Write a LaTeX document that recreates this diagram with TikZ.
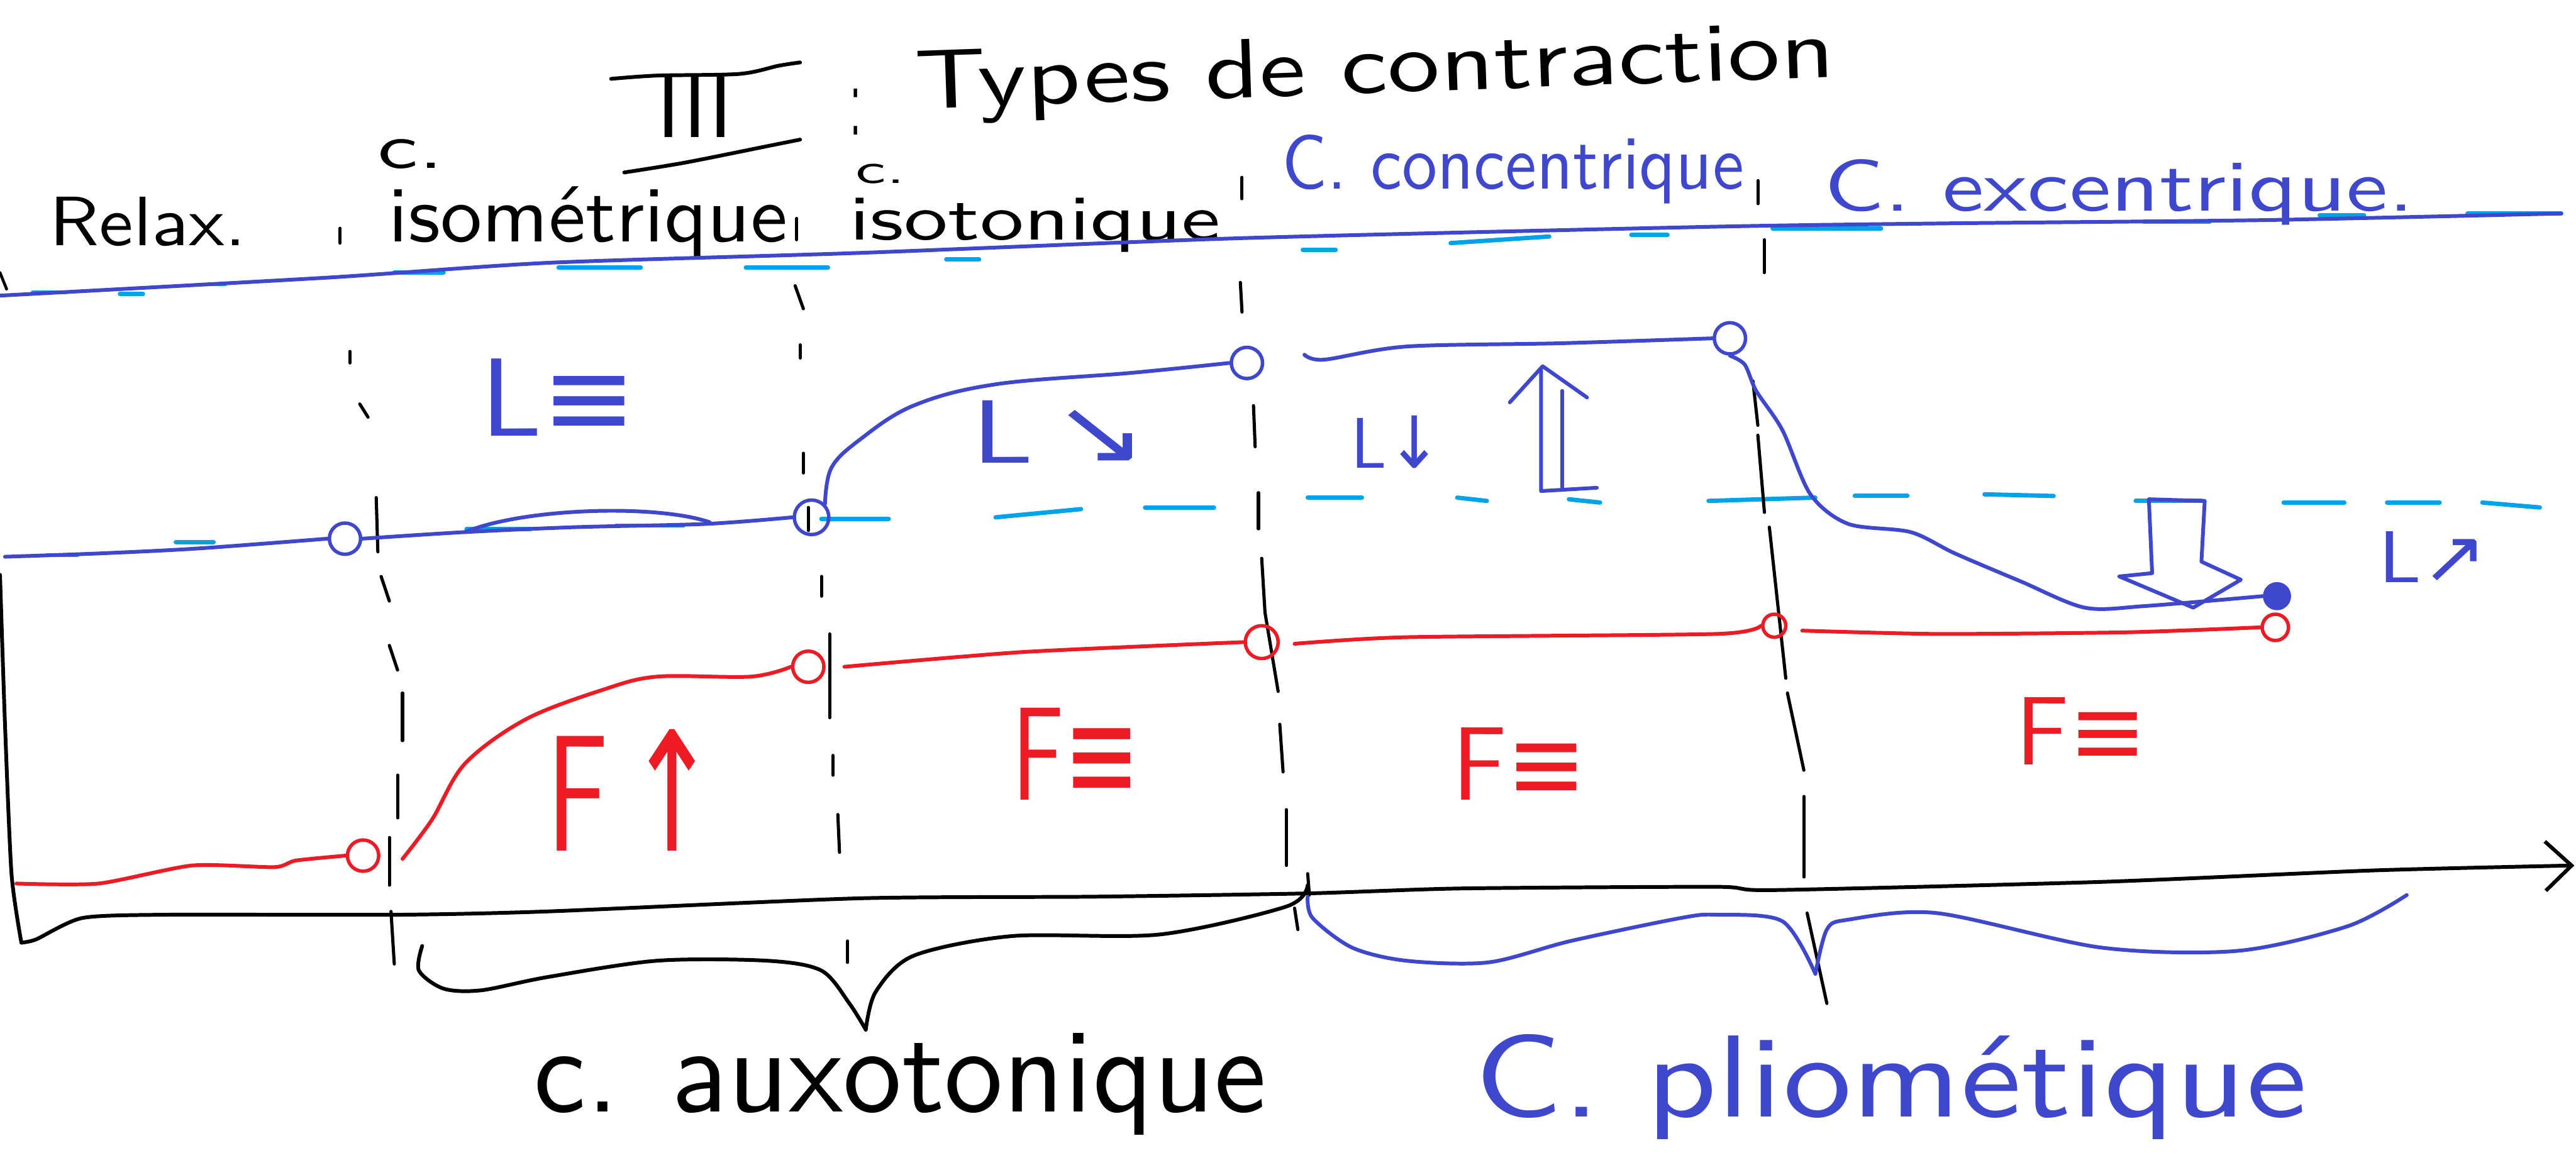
\documentclass[tikz,border=0pt]{standalone}
\usepackage{fontspec}
\newfontfamily\symf{DejaVu Sans}
\usetikzlibrary{arrows.meta}
\definecolor{pblue}{RGB}{63,72,204}
\definecolor{pred}{RGB}{237,28,36}
\definecolor{pcyan}{RGB}{0,162,232}
\newlength\uu
\setlength\uu{0.01cm}
\newcommand{\fitbox}[3]{\resizebox*{#1\uu}{#2\uu}{#3}}
\tikzset{
 bline/.style={draw=pblue, line width=0.65pt},
 rline/.style={draw=pred, line width=0.65pt},
 kline/.style={draw=black, line width=0.65pt},
 cdash/.style={draw=pcyan, line width=0.75pt},
 kdash/.style={draw=black, line width=0.55pt},
 mk/.style={circle, draw, line width=0.6pt, inner sep=0pt, minimum size=0.19cm},
 txt/.style={inner sep=0pt, outer sep=0pt, font=\sffamily},
}
\begin{document}
\begin{tikzpicture}[x=0.01cm,y=-0.01cm, line cap=round, line join=round]
\useasboundingbox (0,0) rectangle (1568,705);

% ---------- title ----------
\node[txt] (roman) at (423,65) {\fitbox{46}{37}{III}};
\draw[kline] plot[smooth] coordinates {(372,48) (400,46) (450,45) (474,40) (487,38)};
\draw[kline] plot[smooth] coordinates {(380,105) (417,99) (467,89) (487,85)};
\node[txt] (colon) at (521,68) {\fitbox{7}{28}{:}};
\node[txt, rotate=2] (title) at (837,44) {\fitbox{560}{46}{Types de contraction}};

% ---------- top labels ----------
\node[txt] (relax) at (90,135) {\fitbox{120}{30}{Relax.}};
\node[txt] (c1) at (250,94) {\fitbox{40}{18}{c.}};
\node[txt] (isom) at (358,135) {\fitbox{243}{43}{isométrique}};
\node[txt] (c2) at (536,106) {\fitbox{30}{12}{c.}};
\node[txt] (isot) at (630,137) {\fitbox{226}{33}{isotonique}};
\node[txt, text=pblue] (conc) at (921,103) {\fitbox{281}{42}{C. concentrique}};
\node[txt, text=pblue] (exc) at (1290,117) {\fitbox{359}{40}{C. excentrique.}};

% ---------- top reference line ----------
\coordinate (topL) at (0,180);
\coordinate (topR) at (1559,130);
\foreach \a/\b/\c/\d in {20/178/40/178, 73/179/87/179, 127/173/137/173, 240/166/270/166,
  340/163/390/163, 454/163/504/163, 576/158/596/158, 793/152/813/152, 883/148/943/144,
  993/143/1015/143, 1079/139/1145/139, 1305/135/1345/135, 1412/131/1439/131, 1502/130/1559/130}
  \draw[cdash] (\a,\b) -- (\c,\d);
\draw[bline] plot[smooth,tension=.4] coordinates {(topL) (200,169) (334,160) (523,154) (756,145) (1045,138) (1185,136) (1379,134) (topR)};
\draw[kline, line width=0.5pt] (0,166) -- (4,176);

% ---------- cyan length reference ----------
\foreach \a/\b/\c/\d in {29/338/47/338, 107/330/130/330, 284/322/323/322, 375/320/416/320,
  500/316/541/316, 606/315/658/310, 697/309/739/309, 796/303/829/303, 887/303/905/305,
  955/304/974/306, 1040/305/1105/303, 1129/302/1161/302, 1208/301/1250/302, 1300/305/1340/305,
  1390/306/1427/306, 1453/306/1485/306, 1511/306/1546/309}
  \draw[cdash] (\a,\b) -- (\c,\d);

% ---------- black dashed separators ----------
\foreach \a/\b/\c/\d in {207/139/207/148, 213/214/213/221, 219/246/224/254, 229/303/230/336,
  232/351/237/366, 237/393/242/408, 245/422/245/451, 242/472/242/498, 237/510/237/539, 238/555/240/587,
  485/133/485/146, 484/174/489/188, 487/210/487/218, 489/276/489/288, 492/309/492/323,
  500/351/500/363, 505/386/505/437, 507/460/507/472, 510/496/511/519, 516/573/516/586,
  756/108/756/121, 755/172/756/190, 763/247/764/272, 766/300/766/322, 779/441/781/470,
  783/493/783/527, 796/532/797/545, 788/553/790/566,
  1070/110/1070/124, 1074/146/1074/166, 1067/232/1070/259, 1070/265/1074/312,
  1088/422/1098/469, 1098/485/1098/534, 1100/556/1112/611}
  \draw[kdash] (\a,\b) -- (\c,\d);
\draw[kdash] (768,340) -- (770,373) -- (778,421);
\draw[kdash] (1077,321) -- (1087,413);

% ---------- length curve (blue) ----------
\coordinate (bL0) at (3,339);
\node[mk, draw=pblue] (bL1) at (210,328) {};
\node[mk, draw=pblue, minimum size=0.21cm] (bL2) at (494,315) {};
\node[mk, draw=pblue] (bL3) at (759,221) {};
\node[mk, draw=pblue] (bL4) at (1053,206) {};
\node[mk, draw=pblue, fill=pblue, minimum size=0.15cm] (bL5) at (1386,363) {};
\coordinate (bL3b) at (794,216);
\draw[bline] plot[smooth,tension=.5] coordinates {(bL0) (60,337) (120,334) (bL1.west)};
\draw[bline] plot[smooth,tension=.5] coordinates {(bL1.east) (283,324) (350,321) (430,319) (bL2.west)};
\draw[bline] (283,324) .. controls (320,309) and (400,307) .. (432,318);
\draw[bline] plot[smooth,tension=.6] coordinates {(bL2.north east) (506,285) (523,268) (556,247) (606,234) (689,227) (bL3.west)};
\draw[bline] plot[smooth,tension=.5] coordinates {(bL3b) (806,219) (856,211) (950,209) (bL4.west)};
\draw[bline] plot[smooth,tension=.5] coordinates {(bL4.south) (1062,222) (1069,238) (1085,262) (1102,301) (1125,319) (1163,324) (1190,337) (1230,354) (1269,370) (1306,369) (bL5.west)};

% ---------- force curve (red) ----------
\coordinate (rF0) at (10,538);
\node[mk, draw=pred] (rF1) at (221,521) {};
\node[mk, draw=pred] (rF2) at (492,406) {};
\node[mk, draw=pred, minimum size=0.2cm] (rF3) at (768,391) {};
\node[mk, draw=pred, minimum size=0.14cm] (rF4) at (1080,381) {};
\node[mk, draw=pred, minimum size=0.16cm] (rF5) at (1385,382) {};
\draw[rline] plot[smooth,tension=.4] coordinates {(rF0) (60,538) (117,527) (167,528) (180,524) (rF1.west)};
\draw[rline] plot[smooth,tension=.55] coordinates {(245,523) (263,499) (283,465) (320,438) (367,420) (400,412) (457,412) (rF2.west)};
\draw[rline] plot[smooth,tension=.4] coordinates {(514,406) (623,397) (rF3.west)};
\draw[rline] plot[smooth,tension=.4] coordinates {(788,392) (856,388) (1045,386) (rF4.west)};
\draw[rline] plot[smooth,tension=.4] coordinates {(1097,384) (1179,386) (1295,385) (rF5.west)};

% ---------- labels in the zones ----------
\node[txt, text=pblue] (Lc) at (340,242) {\fitbox{95}{47}{L{\symf≡}}};
\node[txt, text=pblue] (Ld) at (645,263) {\fitbox{107}{38}{L\,{\symf↘}}};
\node[txt, text=pblue] (Lm) at (850,269) {\fitbox{55}{32}{L{\symf↓}}};
\node[txt, text=pblue] (Lp) at (1481,339) {\fitbox{66}{31}{L{\symf↗}}};
\node[txt, text=pred] (Fu) at (385,481) {\fitbox{104}{74}{F\,{\symf↑}}};
\node[txt, text=pred] (F1) at (655,459) {\fitbox{78}{56}{F{\symf≡}}};
\node[txt, text=pred] (F2) at (925,465) {\fitbox{82}{44}{F{\symf≡}}};
\node[txt, text=pred] (F3) at (1267,445) {\fitbox{80}{41}{F{\symf≡}}};

% hollow arrows
\draw[bline] (919,245) -- (939,223) -- (966,242);
\draw[bline] (938,225) -- (938,299) -- (972,297);
\draw[bline] (951,238) -- (951,297);
\draw[bline] (1308,304) -- (1342,305) -- (1340,342) -- (1364,353) -- (1335,370) -- (1290,351) -- (1310,349) -- cycle;

% ---------- axes ----------
\coordinate (ax0) at (0,350);
\coordinate (axO) at (13,574);
\coordinate (axE) at (1567,527);
\draw[kline] plot[smooth,tension=.4] coordinates {(ax0) (3,440) (7,532) (axO)};
\draw[kline, -{Straight Barb[length=0.16cm,width=0.3cm]}] plot[smooth,tension=.4] coordinates {(axO) (22,572) (50,559) (100,557) (243,557) (333,555) (523,547) (666,546) (796,544) (889,541) (1045,540) (1079,542) (1279,537) (1445,530) (axE)};

% ---------- braces ----------
\coordinate (bkA) at (257,576);
\coordinate (bkT) at (527,627);
\coordinate (bkB) at (796,539);
\draw[kline] plot[smooth,tension=.5] coordinates {(bkA) (255,591) (270,602) (293,603) (333,595) (400,585) (467,585) (500,591) (517,611) (bkT)};
\draw[kline] plot[smooth,tension=.5] coordinates {(bkT) (533,604) (556,582) (616,570) (706,569) (783,552) (bkB)};
\coordinate (bbA) at (796,546);
\coordinate (bbT) at (1105,593);
\coordinate (bbB) at (1465,545);
\draw[bline] plot[smooth,tension=.5] coordinates {(bbA) (799,559) (823,577) (856,585) (906,586) (956,573) (1023,559) (1045,557) (1085,561) (bbT)};
\draw[bline] plot[smooth,tension=.5] coordinates {(bbT) (1112,566) (1125,560) (1179,556) (1279,577) (1362,579) (1429,564) (bbB)};

% ---------- bottom labels ----------
\node[txt] (auxo) at (548,660) {\fitbox{446}{62}{c. auxotonique}};
\node[txt, text=pblue] (plio) at (1151,662) {\fitbox{507}{64}{C. pliométique}};
\end{tikzpicture}
\end{document}
